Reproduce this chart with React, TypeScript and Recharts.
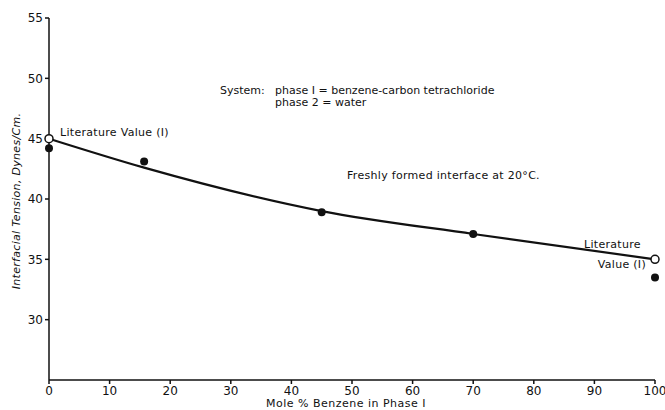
import { ComposedChart, Line, Scatter, XAxis, YAxis } from 'recharts';

// measured points (filled circles)
const moleBenzene = [0, 15.7, 45, 70, 100];
const tension = [44.2, 43.1, 38.9, 37.1, 33.5];

// literature values (open circles)
const litMole = [0, 100];
const litTension = [45, 35];

// smooth curve drawn through the data
const curveMole = [0, 15.7, 45, 70, 100];
const curveTension = [45, 42.6, 39, 37.1, 35];

const xTicks = [0, 10, 20, 30, 40, 50, 60, 70, 80, 90, 100];
const yTicks = [30, 35, 40, 45, 50, 55];

const measured = moleBenzene.map((x, i) => ({ x, y: tension[i] }));
const literature = litMole.map((x, i) => ({ x, y: litTension[i] }));
const curve = curveMole.map((x, i) => ({ x, y: curveTension[i] }));

const font = '"DejaVu Sans", sans-serif';
const tickStyle = { fontSize: 12, fill: '#111', fontFamily: font };

const filledDot = (p: any) => <circle cx={p.cx} cy={p.cy} r={4} fill="#111" />;
const openDot = (p: any) => (
  <circle cx={p.cx} cy={p.cy} r={4} fill="#fff" stroke="#111" strokeWidth={1.5} />
);

export default function App() {
  return (
    <div style={{ position: 'absolute', left: 0, top: 0, width: 665, height: 410, background: '#fff' }}>
      <ComposedChart width={665} height={410} margin={{ top: 18, right: 10, bottom: 0, left: 9 }}>
        <XAxis
          dataKey="x"
          type="number"
          domain={[0, 100]}
          ticks={xTicks}
          tick={tickStyle}
          tickSize={4}
          height={30}
          stroke="#111"
          strokeWidth={1.5}
          interval={0}
        />
        <YAxis
          dataKey="y"
          type="number"
          domain={[25, 55]}
          ticks={yTicks}
          tick={tickStyle}
          tickSize={4}
          width={40}
          stroke="#111"
          strokeWidth={1.5}
          interval={0}
          allowDataOverflow
        />
        <Line
          data={curve}
          dataKey="y"
          type="monotone"
          stroke="#111"
          strokeWidth={2.2}
          dot={false}
          isAnimationActive={false}
        />
        <Scatter data={measured} dataKey="y" shape={filledDot} isAnimationActive={false} />
        <Scatter data={literature} dataKey="y" shape={openDot} isAnimationActive={false} />
      </ComposedChart>
      <svg
        width={665}
        height={410}
        style={{ position: 'absolute', left: 0, top: 0, pointerEvents: 'none' }}
        fontFamily={font}
        fontSize={11}
        letterSpacing={0.3}
        fill="#111"
      >
        <text x={220} y={94} letterSpacing={0}>System:</text>
        <text x={275} y={94} letterSpacing={0}>phase I = benzene-carbon tetrachloride</text>
        <text x={275} y={106} letterSpacing={0}>phase 2 = water</text>
        <text x={347} y={179}>Freshly formed interface at 20°C.</text>
        <text x={60} y={136}>Literature Value (I)</text>
        <text x={584} y={248}>Literature</text>
        <text x={646} y={268} textAnchor="end">Value (I)</text>
        <text x={346} y={407} textAnchor="middle" letterSpacing={0.5}>Mole % Benzene in Phase I</text>
        <text
          x={0}
          y={0}
          transform="translate(20,201) rotate(-90)"
          textAnchor="middle"
          fontStyle="italic"
        >
          Interfacial Tension, Dynes/Cm.
        </text>
      </svg>
    </div>
  );
}
